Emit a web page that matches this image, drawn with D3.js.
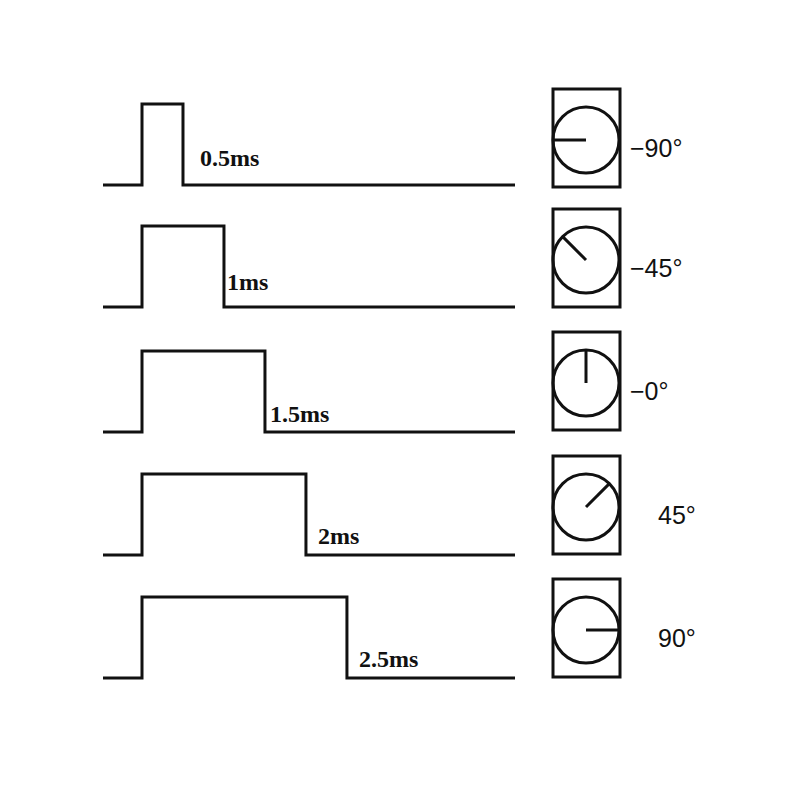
<!DOCTYPE html>
<html><head><meta charset="utf-8">
<script src="https://d3js.org/d3.v7.min.js"></script>
<style>body{margin:0;background:#fff}</style></head>
<body><svg id="c" width="800" height="800"></svg>
<script>
const widths = [0.5, 1, 1.5, 2, 2.5];
const pulseLabels = ["0.5ms", "1ms", "1.5ms", "2ms", "2.5ms"];
const angles = [-90, -45, 0, 45, 90];
const angleLabels = ["\u221290\u00b0", "\u221245\u00b0", "\u22120\u00b0", "45\u00b0", "90\u00b0"];
const baselines = [185, 307, 432, 555, 678];
const dialCenters = [140, 260, 383, 507, 630];

const svg = d3.select("#c");
const x = d3.scaleLinear().domain([-0.47, 0, 4.55]).range([103, 142, 515]);
const H = 81;
const line = d3.line();
const g = svg.append("g").attr("fill","none").attr("stroke","#111").attr("stroke-width",3);

widths.forEach((w,i)=>{
  const b = baselines[i];
  g.append("path").attr("d", line([[x(-0.47),b],[x(0),b],[x(0),b-H],[x(w),b-H],[x(w),b],[x(4.55),b]]));
  svg.append("text").attr("x", x(w)+[17,3,5,12,12][i]).attr("y", b-[19,17,10,11,11][i])
    .attr("font-family","Liberation Serif, serif").attr("font-weight","bold").attr("font-size",24)
    .attr("fill","#111").text(pulseLabels[i]);
  const cy = dialCenters[i], cx = 586, r = 33;
  g.append("rect").attr("x",553).attr("y",cy-51).attr("width",67).attr("height",98);
  g.append("circle").attr("cx",cx).attr("cy",cy).attr("r",r);
  const a = (angles[i]-90)*Math.PI/180;
  g.append("path").attr("d", line([[cx,cy],[cx+r*Math.cos(a),cy+r*Math.sin(a)]]));
  svg.append("text").attr("x", i<3?630:658).attr("y", cy+17)
    .attr("font-family","Liberation Sans, sans-serif").attr("font-size",25)
    .attr("fill","#111").text(angleLabels[i]);
});
</script></body></html>
